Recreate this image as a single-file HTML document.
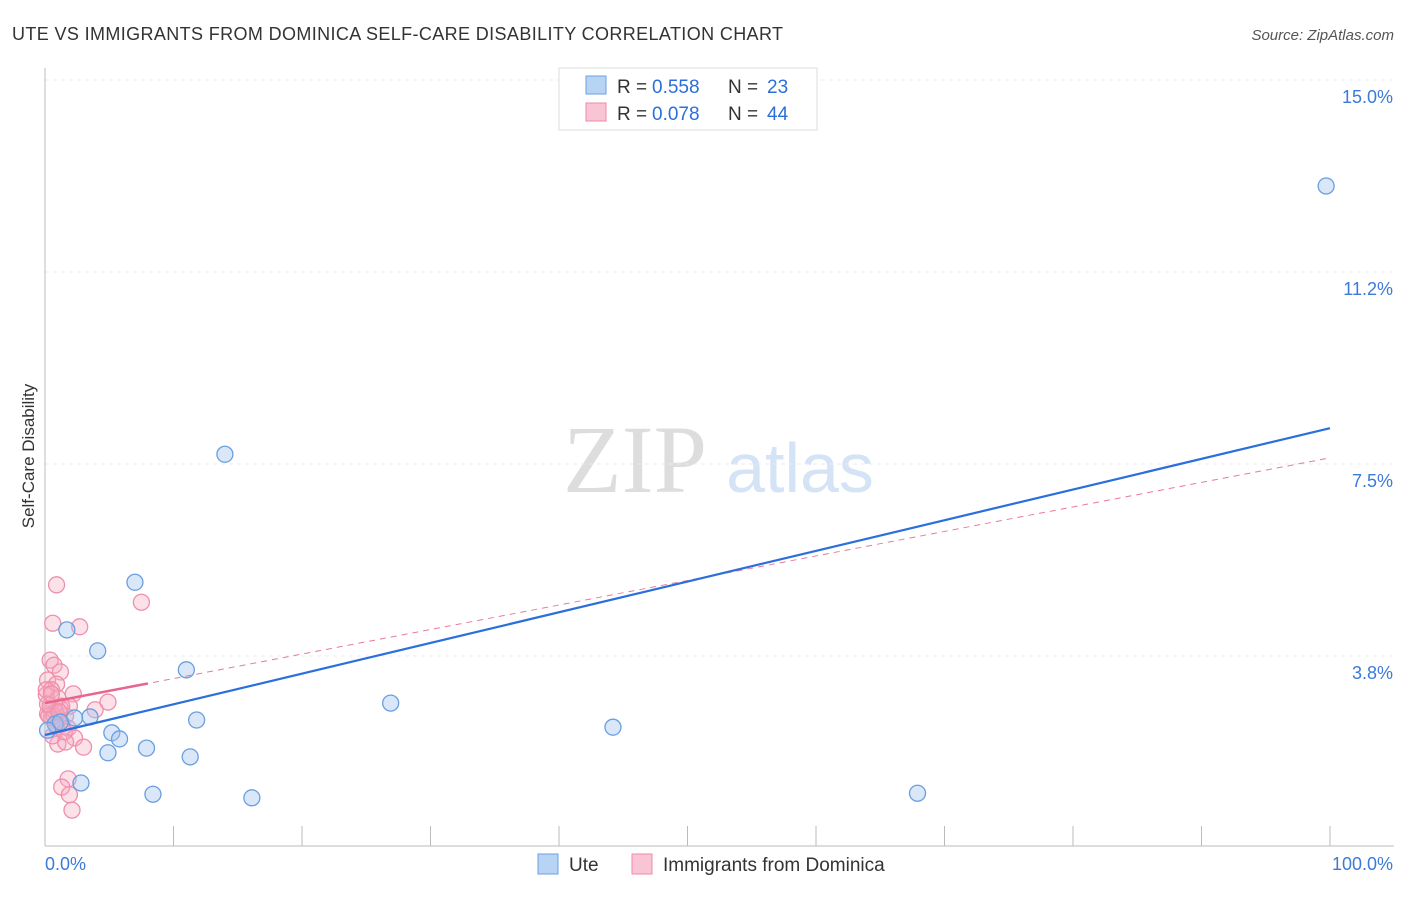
<!DOCTYPE html>
<html><head><meta charset="utf-8"><style>
body{margin:0;background:#fff;font-family:"Liberation Sans",sans-serif}
svg text{font-family:"Liberation Sans",sans-serif}
</style></head><body>
<svg id="c" width="1406" height="892" xmlns="http://www.w3.org/2000/svg">
<text x="12" y="40" font-size="18" fill="#333" textLength="771">UTE VS IMMIGRANTS FROM DOMINICA SELF-CARE DISABILITY CORRELATION CHART</text>
<text x="1394" y="40" font-size="15" fill="#555" font-style="italic" text-anchor="end">Source: ZipAtlas.com</text>
<text x="34" y="456" font-size="17" fill="#333" text-anchor="middle" transform="rotate(-90 34 456)">Self-Care Disability</text>
<text x="635" y="492" font-size="96" fill="#ddd" text-anchor="middle" style="font-family:'Liberation Serif',serif">ZIP</text>
<text x="800" y="492" font-size="70" fill="#d4e3f5" text-anchor="middle">atlas</text>
<g id="grid"></g><g id="axes"></g><g id="pts"></g><g id="trend"></g>
<g>
<rect x="559" y="68" width="258" height="62" fill="#fff" stroke="#ddd"/>
<rect x="586" y="76" width="20" height="18" fill="#b8d4f5" stroke="#6c9fe0"/>
<rect x="586" y="103" width="20" height="18" fill="#f9c4d3" stroke="#ee8aa8"/>
<text x="617" y="93" font-size="19" fill="#333">R =</text><text x="652" y="93" font-size="19" fill="#2a6fdb">0.558</text>
<text x="728" y="93" font-size="19" fill="#333">N =</text><text x="767" y="93" font-size="19" fill="#2a6fdb">23</text>
<text x="617" y="120" font-size="19" fill="#333">R =</text><text x="652" y="120" font-size="19" fill="#2a6fdb">0.078</text>
<text x="728" y="120" font-size="19" fill="#333">N =</text><text x="767" y="120" font-size="19" fill="#2a6fdb">44</text>
</g>
<g>
<rect x="538" y="854" width="20" height="20" fill="#b8d4f5" stroke="#6c9fe0"/>
<text x="569" y="871" font-size="19" fill="#333">Ute</text>
<rect x="632" y="854" width="20" height="20" fill="#f9c4d3" stroke="#ee8aa8"/>
<text x="663" y="871" font-size="19" fill="#333">Immigrants from Dominica</text>
</g>
</svg>
<script>
const yTicks=[3.75,7.5,11.25,15];
const yTickLabels=["3.8%","7.5%","11.2%","15.0%"];
const xTickLabels=["0.0%","100.0%"];
const uteX=[99.7,14.0,7.0,1.7,4.1,11.0,26.9,11.8,44.2,3.5,2.3,5.2,5.8,7.9,4.9,11.3,2.8,8.4,16.1,67.9,0.8,1.2,0.2];
const uteY=[12.93,7.69,5.19,4.26,3.85,3.48,2.83,2.50,2.36,2.56,2.54,2.25,2.13,1.95,1.86,1.78,1.27,1.05,0.98,1.07,2.42,2.46,2.30];
const domX=[0.9,7.5,0.6,2.7,0.4,0.7,1.2,0.2,0.9,0.5,2.2,0.1,1.0,4.9,0.4,1.3,3.9,0.8,0.2,1.6,0.5,1.0,1.3,1.8,2.3,1.0,1.6,3.0,0.4,0.7,1.2,0.1,1.9,0.3,0.9,1.8,1.3,1.9,2.1,0.6,1.5,0.2,0.5,1.1];
const domY=[5.14,4.80,4.39,4.32,3.67,3.57,3.44,3.28,3.20,3.09,3.01,2.99,2.93,2.85,2.79,2.77,2.70,2.66,2.62,2.58,2.54,2.50,2.42,2.34,2.15,2.03,2.07,1.97,2.73,2.58,2.73,3.09,2.77,2.58,2.36,1.35,1.19,1.04,0.74,2.19,2.27,2.81,3.01,2.66];
const uteTrend=[2.207,8.20];
const domTrend=[2.83,7.62];
const X=v=>45+v*12.85, Y=v=>848-v*51.2;
const NS="http://www.w3.org/2000/svg";
function mk(p,t,a){const e=document.createElementNS(NS,t);for(const k in a)e.setAttribute(k,a[k]);document.getElementById(p).appendChild(e);return e;}
yTicks.forEach((t,i)=>{
 const l=mk('grid','line',{x1:45,x2:1394,y1:Y(t),y2:Y(t),stroke:'#ebebeb','stroke-dasharray':'4,4'});
 
 
 const tx=mk('grid','text',{x:1393,y:Y(t)+23,'font-size':18,fill:'#3b7ad9','text-anchor':'end'});tx.textContent=yTickLabels[i];
 
 
});
mk('axes','line',{x1:45,x2:45,y1:68,y2:846,stroke:'#bbb'});
mk('axes','line',{x1:45,x2:1394,y1:846,y2:846,stroke:'#bbb'});
for(let i=1;i<=10;i++){const tk=mk('axes','line',{x1:X(i*10),x2:X(i*10),y1:826,y2:846,stroke:'#bbb'});
 
 }
let a=mk('axes','text',{x:45,y:870,'font-size':18,fill:'#3b7ad9'});a.textContent=xTickLabels[0];


a=mk('axes','text',{x:1393,y:870,'font-size':18,fill:'#3b7ad9','text-anchor':'end'});a.textContent=xTickLabels[1];


domX.forEach((v,i)=>{const c=mk('pts','circle',{cx:X(v),cy:Y(domY[i]),r:8,fill:'rgba(246,170,192,0.35)',stroke:'#ef8fac','stroke-width':1.3});
 
 });
uteX.forEach((v,i)=>{const c=mk('pts','circle',{cx:X(v),cy:Y(uteY[i]),r:8,fill:'rgba(160,196,240,0.4)',stroke:'#6a9ee0','stroke-width':1.3});
 
 });
const ld=(x)=>domTrend[0]+(domTrend[1]-domTrend[0])*x/100;
let t=mk('trend','line',{x1:X(0),y1:Y(ld(0)),x2:X(100),y2:Y(ld(100)),stroke:'#e87a9c','stroke-width':1,'stroke-dasharray':'6,5'});


t=mk('trend','line',{x1:X(0),y1:Y(ld(0)),x2:X(8),y2:Y(ld(8)),stroke:'#e8658f','stroke-width':2.5});


t=mk('trend','line',{x1:X(0),y1:Y(uteTrend[0]),x2:X(100),y2:Y(uteTrend[1]),stroke:'#2a6fdb','stroke-width':2.2});


</script>
</body></html>
